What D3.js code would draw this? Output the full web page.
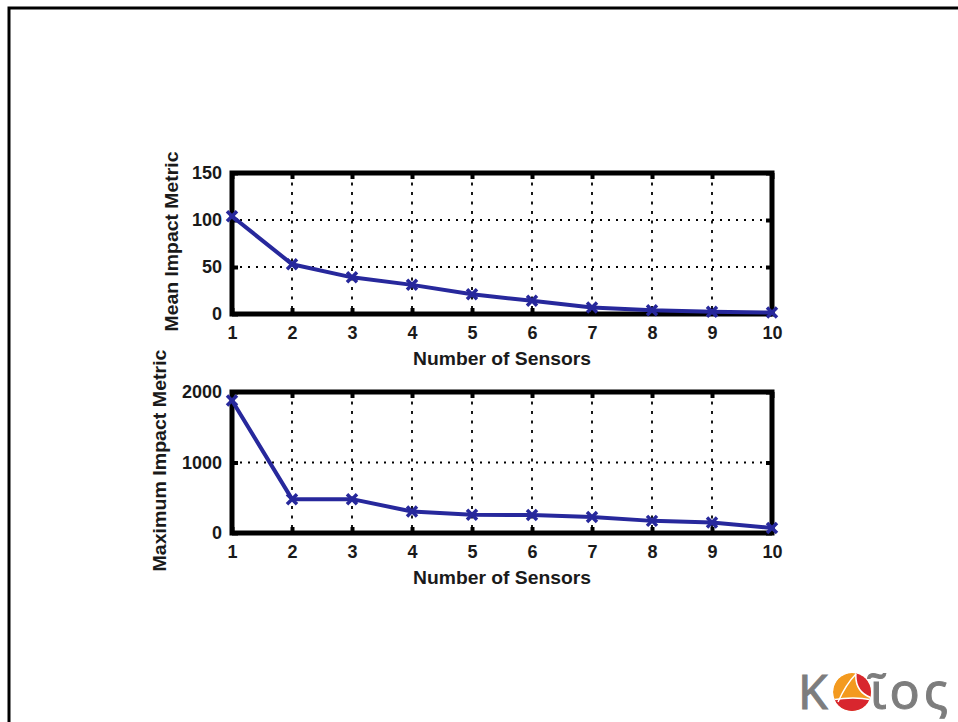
<!DOCTYPE html>
<html>
<head>
<meta charset="utf-8">
<script src="https://cdn.jsdelivr.net/npm/d3@7/dist/d3.min.js"></script>
<style>
  html, body { margin: 0; padding: 0; background: #fff; }
  svg { display: block; }
  text { font-family: "Liberation Sans", Arial, sans-serif; font-weight: bold; }
</style>
</head>
<body>
<div id="chart"></div>
<script>
// DATA
const sensors = [1, 2, 3, 4, 5, 6, 7, 8, 9, 10];
const meanImpact = [104, 53, 39, 31, 21, 14, 7, 4, 2.5, 1.5];
const maxImpact = [1880, 480, 480, 305, 258, 255, 228, 172, 150, 72];
const meanTicks = [0, 50, 100, 150];
const maxTicks = [0, 1000, 2000];
const xLabel = 'Number of Sensors';
const meanLabel = 'Mean Impact Metric';
const maxLabel = 'Maximum Impact Metric';

const width = 958, height = 722;
const lineColor = '#27289c';

const svg = d3.select('#chart').append('svg')
    .attr('width', width)
    .attr('height', height);

// slide frame (left + top edges visible)
svg.append('path')
    .attr('d', `M9,${height} L9,8 L${width},8`)
    .attr('fill', 'none')
    .attr('stroke', '#000')
    .attr('stroke-width', 3);

const x = d3.scaleLinear().domain([1, 10]).range([232, 772]);

function panel(values, yDomain, yTicks, top, bottom, yLab, yLabX, yLabLen, xLabY) {
    const y = d3.scaleLinear().domain(yDomain).range([bottom, top]);
    const g = svg.append('g');

    // GRID
    g.append('g').selectAll('line')
        .data(sensors.slice(1, -1))
        .join('line')
        .attr('x1', d => x(d)).attr('x2', d => x(d))
        .attr('y1', top).attr('y2', bottom)
        .attr('stroke', '#000').attr('stroke-width', 1.8)
        .attr('stroke-dasharray', '3,6.5');

    g.append('g').selectAll('line')
        .data(yTicks.slice(1, -1))
        .join('line')
        .attr('x1', x.range()[0]).attr('x2', x.range()[1])
        .attr('y1', d => y(d)).attr('y2', d => y(d))
        .attr('stroke', '#000').attr('stroke-width', 1.8)
        .attr('stroke-dasharray', '2,6');

    // AXES (inward ticks)
    const ax = (sel) => sel.select('.domain').remove();
    g.append('g')
        .attr('transform', `translate(0,${bottom})`)
        .call(d3.axisBottom(x).tickValues(sensors).tickFormat(d3.format('d')).tickSize(-6).tickPadding(12))
        .call(ax);
    g.append('g')
        .attr('transform', `translate(0,${top})`)
        .call(d3.axisTop(x).tickValues(sensors).tickFormat('').tickSize(-6))
        .call(ax);
    g.append('g')
        .attr('transform', `translate(${x.range()[0]},0)`)
        .call(d3.axisLeft(y).tickValues(yTicks).tickFormat(d3.format('d')).tickSize(-6).tickPadding(10))
        .call(ax);
    g.append('g')
        .attr('transform', `translate(${x.range()[1]},0)`)
        .call(d3.axisRight(y).tickValues(yTicks).tickFormat('').tickSize(-6))
        .call(ax);

    g.selectAll('.tick line').attr('stroke', '#000').attr('stroke-width', 4);
    g.selectAll('.tick text')
        .attr('fill', '#1a1a1a')
        .style('font-size', '18px')
        .style('font-family', '"Liberation Sans", Arial, sans-serif')
        .style('font-weight', 'bold');

    // FRAME
    g.append('rect')
        .attr('x', x.range()[0]).attr('y', top)
        .attr('width', x.range()[1] - x.range()[0])
        .attr('height', bottom - top)
        .attr('fill', 'none')
        .attr('stroke', '#000')
        .attr('stroke-width', 5);

    // LINE
    const pts = sensors.map((s, i) => [s, values[i]]);
    g.append('path')
        .datum(pts)
        .attr('fill', 'none')
        .attr('stroke', lineColor)
        .attr('stroke-width', 4)
        .attr('stroke-linejoin', 'round')
        .attr('d', d3.line().x(d => x(d[0])).y(d => y(d[1])));

    g.append('g').selectAll('path')
        .data(pts)
        .join('path')
        .attr('transform', d => `translate(${x(d[0])},${y(d[1])})`)
        .attr('d', 'M-5,-5L5,5M-5,5L5,-5')
        .attr('stroke', lineColor)
        .attr('stroke-width', 3.5);

    // LABELS
    g.append('text')
        .attr('x', (x.range()[0] + x.range()[1]) / 2)
        .attr('y', xLabY)
        .attr('text-anchor', 'middle')
        .attr('textLength', 178)
        .attr('lengthAdjust', 'spacingAndGlyphs')
        .style('font-size', '18px')
        .attr('fill', '#1a1a1a')
        .text(xLabel);

    g.append('text')
        .attr('transform', `translate(${yLabX},${(top + bottom) / 2 - 2}) rotate(-90)`)
        .attr('text-anchor', 'middle')
        .attr('textLength', yLabLen)
        .attr('lengthAdjust', 'spacingAndGlyphs')
        .style('font-size', '18px')
        .attr('fill', '#1a1a1a')
        .text(yLab);
}

panel(meanImpact, [0, 150], meanTicks, 173, 314, meanLabel, 178, 180, 365);
panel(maxImpact, [0, 2000], maxTicks, 392, 533, maxLabel, 166, 222, 584);

// LOGO (partially cut off at right edge)
const logo = svg.append('g');
logo.append('text')
    .attr('x', 798).attr('y', 709)
    .style('font-family', '"Noto Sans", "DejaVu Sans", sans-serif')
    .style('font-weight', 'normal')
    .style('font-size', '48px')
    .attr('fill', '#7d7d7d')
    .attr('stroke', '#7d7d7d')
    .attr('stroke-width', 1)
    .text('K');

const ball = logo.append('g').attr('transform', 'translate(852,692)');
ball.append('clipPath').attr('id', 'ballClip')
    .append('circle').attr('r', 19);
const bc = ball.append('g').attr('clip-path', 'url(#ballClip)');
bc.append('circle').attr('r', 19).attr('fill', '#f39a1f');
bc.append('path').attr('d', 'M4,-20 Q2,0 20,6 L22,-22 Z').attr('fill', '#d8262e');
bc.append('path').attr('d', 'M-20,8 Q2,4 20,8 L20,22 L-20,22 Z').attr('fill', '#d8262e');
bc.append('path').attr('d', 'M4,-20 Q2,0 20,6').attr('fill', 'none').attr('stroke', '#fff').attr('stroke-width', 1.5);
bc.append('path').attr('d', 'M-20,8 Q2,4 20,8').attr('fill', 'none').attr('stroke', '#fff').attr('stroke-width', 1.5);
bc.append('path').attr('d', 'M-14,10 Q-6,-8 4,-18').attr('fill', 'none').attr('stroke', '#fff').attr('stroke-width', 1.5);

logo.append('text')
    .attr('x', 870).attr('y', 709)
    .style('font-family', '"Noto Sans", "DejaVu Sans", sans-serif')
    .style('font-weight', 'normal')
    .style('font-size', '50px')
    .style('letter-spacing', '4px')
    .attr('fill', '#7d7d7d')
    .attr('stroke', '#7d7d7d')
    .attr('stroke-width', 1)
    .text('ῖος');
</script>
</body>
</html>
